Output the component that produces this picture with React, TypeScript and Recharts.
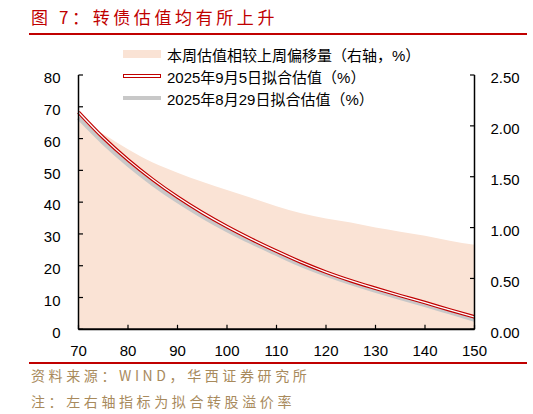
import { ComposedChart, Area, Line, XAxis, YAxis } from 'recharts'

const premiumLevels = [70, 75, 80, 85, 90, 95, 100, 105, 110, 115, 120, 125, 130, 135, 140, 145, 150]
const fitSep05 = [68.3, 60.3, 53.3, 47.1, 41.6, 36.7, 32.3, 28.3, 24.6, 21.1, 18.0, 15.3, 12.9, 10.6, 8.4, 6.1, 3.9]
const fitAug29 = [66.5, 58.7, 51.8, 45.7, 40.3, 35.5, 31.2, 27.3, 23.7, 20.2, 17.2, 14.5, 12.1, 9.8, 7.6, 5.3, 3.0]
const weeklyShift = [2.05, 1.92, 1.77, 1.64, 1.54, 1.45, 1.37, 1.29, 1.21, 1.14, 1.09, 1.05, 1.0, 0.96, 0.92, 0.87, 0.83]

const xTicks = [70, 80, 90, 100, 110, 120, 130, 140, 150]
const leftTicks = [0, 10, 20, 30, 40, 50, 60, 70, 80]
const rightTicks = [0, 0.5, 1, 1.5, 2, 2.5]

const legendLabels = ['本周估值相较上周偏移量（右轴，%）', '2025年9月5日拟合估值（%）', '2025年8月29日拟合估值（%）']

const RED = '#c00000'
const PEACH = '#fae3d5'
const GRAY = '#c8c8c8'
const NOTE = '#a88a5c'

const data = premiumLevels.map((x, i) => ({
  x,
  sep05: fitSep05[i],
  aug29: fitAug29[i],
  shift: weeklyShift[i],
}))

const tickStyle = { fontSize: 15, fill: '#000', fontFamily: '"Liberation Sans", Arial, sans-serif', dy: 3 }

function LegendIcon(props: { kind: number }) {
  if (props.kind === 0) {
    return <div style={{ width: 38, height: 8, background: PEACH }} />
  }
  if (props.kind === 1) {
    return <div style={{ width: 36, height: 2, border: `1.3px solid ${RED}`, background: '#fff' }} />
  }
  return <div style={{ width: 38, height: 4, background: GRAY }} />
}

export default function App() {
  return (
    <div
      style={{
        position: 'absolute',
        left: 0,
        top: 0,
        width: 533,
        height: 414,
        background: '#fff',
        fontFamily: '"Liberation Sans", "Noto Sans CJK SC", sans-serif',
      }}
    >
      <div
        style={{
          position: 'absolute',
          left: 31,
          top: 4,
          fontSize: 17,
          letterSpacing: 3.6,
          color: RED,
          fontFamily: '"Noto Sans CJK SC", sans-serif',
          whiteSpace: 'nowrap',
        }}
      >
        图 7：转债估值均有所上升
      </div>
      <div style={{ position: 'absolute', left: 29, top: 33, width: 498, height: 1.6, background: RED }} />

      <ComposedChart
        width={533}
        height={414}
        data={data}
        margin={{ top: 75, right: 0, bottom: 54.7, left: 0 }}
        style={{ position: 'absolute', left: 0, top: 0 }}
      >
        <XAxis
          dataKey="x"
          type="number"
          domain={[70, 150]}
          ticks={xTicks}
          height={30}
          tickSize={-4.5}
          tickMargin={21}
          tick={{ ...tickStyle, dy: 0 }}
          axisLine={{ stroke: '#000', strokeWidth: 2 }}
          tickLine={{ stroke: '#000', strokeWidth: 1.2 }}
        />
        <YAxis
          yAxisId="left"
          orientation="left"
          domain={[0, 80]}
          ticks={leftTicks}
          width={78.5}
          tickSize={-4.5}
          tickMargin={22.5}
          tick={tickStyle}
          axisLine={{ stroke: '#000', strokeWidth: 1.5 }}
          tickLine={{ stroke: '#000', strokeWidth: 1.2 }}
        />
        <YAxis
          yAxisId="right"
          orientation="right"
          domain={[0, 2.5]}
          ticks={rightTicks}
          width={58.5}
          tickSize={-4.5}
          tickMargin={20.5}
          tick={{ ...tickStyle, textAnchor: 'start' }}
          tickFormatter={(v: number) => v.toFixed(2)}
          axisLine={{ stroke: '#000', strokeWidth: 1.5 }}
          tickLine={{ stroke: '#000', strokeWidth: 1.2 }}
        />
        <Area
          yAxisId="right"
          dataKey="shift"
          type="monotone"
          fill={PEACH}
          fillOpacity={1}
          stroke="none"
          isAnimationActive={false}
        />
        <Line
          yAxisId="left"
          dataKey="aug29"
          type="monotone"
          stroke={GRAY}
          strokeWidth={4}
          dot={false}
          isAnimationActive={false}
        />
        <Line
          yAxisId="left"
          dataKey="sep05"
          type="monotone"
          stroke={RED}
          strokeWidth={3.6}
          dot={false}
          isAnimationActive={false}
        />
        <Line
          yAxisId="left"
          dataKey="sep05"
          type="monotone"
          stroke="#fff"
          strokeWidth={1.3}
          dot={false}
          isAnimationActive={false}
        />
      </ComposedChart>

      <div style={{ position: 'absolute', left: 123, top: 43 }}>
        {legendLabels.map((label, i) => (
          <div key={label} style={{ display: 'flex', alignItems: 'center', height: 22, whiteSpace: 'nowrap' }}>
            <div style={{ width: 44 }}>
              <LegendIcon kind={i} />
            </div>
            <span style={{ fontSize: 15, color: '#000' }}>{label}</span>
          </div>
        ))}
      </div>

      <div style={{ position: 'absolute', left: 29, top: 362, width: 498, height: 1.6, background: RED }} />
      <div
        style={{
          position: 'absolute',
          left: 31,
          top: 363,
          fontSize: 14,
          lineHeight: '24px',
          letterSpacing: 3.6,
          color: NOTE,
          fontFamily: '"Noto Sans CJK SC", sans-serif',
          whiteSpace: 'nowrap',
        }}
      >
        <div>资料来源：WIND，华西证券研究所</div>
        <div style={{ marginTop: 2 }}>注：左右轴指标为拟合转股溢价率</div>
      </div>
    </div>
  )
}
